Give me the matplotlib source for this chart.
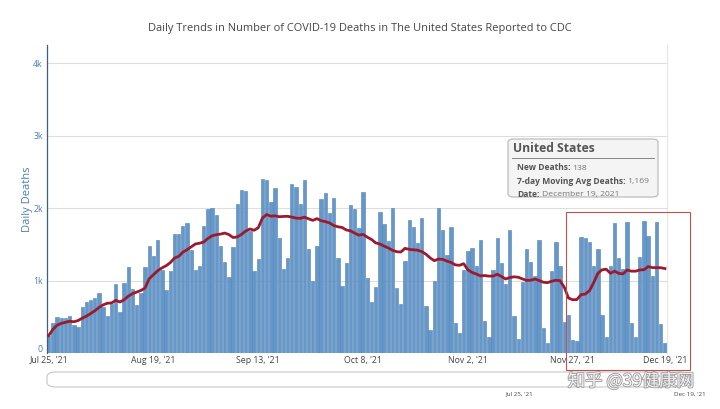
import matplotlib
matplotlib.use("Agg")
import matplotlib.pyplot as plt
from matplotlib.patches import FancyBboxPatch, Rectangle
import matplotlib.patheffects as pe
import matplotlib.transforms as mtransforms
import numpy as np
import pandas as pd

start_date = "2021-07-25"
daily_deaths = [
    240, 410, 500, 485, 485, 510, 387, 355, 640, 700, 730, 755, 830, 640, 510,
    670, 950, 570, 970, 1180, 880, 660, 830, 1190, 1480, 1345, 1560, 1150, 870,
    1125, 1640, 1640, 1750, 1800, 1425, 1150, 1200, 1755, 1990, 2000, 1910, 1480,
    1250, 1055, 1465, 2055, 2245, 2230, 1680, 1125, 1300, 2405, 2390, 2080, 2275,
    1585, 1155, 1310, 2335, 2290, 2055, 2390, 1435, 995, 1480, 2130, 2205, 1930,
    2140, 1310, 930, 1240, 2045, 1985, 1725, 2225, 1040, 710, 908, 1940, 1780,
    1550, 1995, 903, 677, 1263, 1840, 1737, 1516, 1860, 650, 318, 995, 2000, 1700,
    1350, 1737, 410, 281, 1147, 1410, 1447, 1194, 1562, 442, 226, 1147, 1585,
    1240, 949, 1700, 511, 189, 986, 1438, 1253, 1065, 1562, 345, 144, 1127, 1530,
    1205, 434, 526, 180, 162, 1597, 1590, 1528, 1200, 1440, 520, 218, 1200, 1800,
    1310, 1157, 1810, 410, 215, 1320, 1820, 1615, 1058, 1806, 402, 138,
]
dates = pd.date_range(start_date, periods=len(daily_deaths), freq="D")
moving_avg = pd.Series(daily_deaths).rolling(7, min_periods=1).mean().values

tick_dates = ["2021-07-25", "2021-08-19", "2021-09-13", "2021-10-08",
              "2021-11-02", "2021-11-27", "2021-12-19"]
tick_labels = ["Jul 25, '21", "Aug 19, '21", "Sep 13, '21", "Oct 8, '21",
               "Nov 2, '21", "Nov 27, '21", "Dec 19, '21"]
y_ticks = [0, 1000, 2000, 3000, 4000]
y_tick_labels = ["0", "1k", "2k", "3k", "4k"]

title = "Daily Trends in Number of COVID-19 Deaths in The United States Reported to CDC"
tip_title = "United States"
tip_rows = [("New Deaths:", "138"),
            ("7-day Moving Avg Deaths:", "1,169"),
            ("Date:", "December 19, 2021")]

plt.rcParams['font.family'] = ['Open Sans', 'DejaVu Sans']

fig = plt.figure(figsize=(7.2, 4.09), dpi=100)
W, H = 720, 409
ax = fig.add_axes([47 / W, 1 - 353 / H, (667 - 47) / W, (353 - 45) / H])

x = np.arange(len(daily_deaths))
ax.bar(x, daily_deaths, width=0.8, color="#6598c9", edgecolor="#4f83b8",
       linewidth=0.4, zorder=2)
ax.plot(x, moving_avg, color="#9c1a2c", lw=2.0, zorder=3)

ax.set_xlim(-0.4, len(daily_deaths) - 0.5)
ax.set_ylim(0, 4250)
tick_pos = [(pd.Timestamp(d) - dates[0]).days for d in tick_dates]
ax.set_xticks(tick_pos)
ax.set_xticklabels(tick_labels, fontsize=6.3, color="#444444")
ax.set_yticks(y_ticks)
ax.set_yticklabels(y_tick_labels, fontsize=6.3, color="#4a7fb5")
ax.tick_params(axis="both", length=0, pad=3)
ax.tick_params(axis="x", pad=2)
# lift the "0" label slightly so it does not collide with the first date label
zero_lbl = ax.get_yticklabels()[0]
zero_lbl.set_transform(zero_lbl.get_transform() +
                       mtransforms.ScaledTranslation(0, 4 / 100, fig.dpi_scale_trans))
ax.grid(axis="y", color="#dedede", lw=0.8, zorder=0)
for s in ["top", "bottom"]:
    ax.spines[s].set_visible(False)
ax.spines["right"].set_color("#e6e6e6")
ax.spines["right"].set_linewidth(0.8)
ax.spines["left"].set_color("#3d5f80")
ax.spines["left"].set_linewidth(0.9)
ax.set_ylabel("Daily Deaths", fontsize=8, color="#4a7fb5", labelpad=0)

fig.text(360 / W, 1 - 29 / H, title, ha="center", va="center",
         fontsize=7.9, color="#444444")

# tooltip box
tip = FancyBboxPatch((508 / W, 1 - 197 / H), (658 - 508) / W, (197 - 139) / H,
                     boxstyle="round,pad=0,rounding_size=0.008",
                     transform=fig.transFigure, facecolor="#f4f4f4",
                     edgecolor="#bdbdbd", lw=0.9, zorder=10)
fig.patches.append(tip)
fig.text(513 / W, 1 - 149 / H, tip_title, fontsize=8.7, fontweight="bold",
         color="#555555", va="center", zorder=11)
fig.add_artist(plt.Line2D([512 / W, 654 / W], [1 - 158 / H, 1 - 158 / H],
                          transform=fig.transFigure, color="#888888", lw=0.7,
                          zorder=11))
for i, (lab, val) in enumerate(tip_rows):
    yy = 1 - (168 + 13.5 * i) / H
    t = fig.text(517 / W, yy, lab, fontsize=6.1, fontweight="bold",
                 color="#555555", va="center", zorder=11)
    fig.canvas.draw()
    bb = t.get_window_extent()
    fig.text(bb.x1 / W + 2 / W, yy, val, fontsize=6.1, color="#777777",
             va="center", zorder=11)

# range slider
slider = FancyBboxPatch((47 / W, 1 - 387 / H), (688 - 47) / W, 15 / H,
                        boxstyle="round,pad=0,rounding_size=0.012",
                        transform=fig.transFigure, facecolor="white",
                        edgecolor="#cccccc", lw=0.9)
fig.patches.append(slider)
fig.text(519 / W, 1 - 394 / H, tick_labels[0], fontsize=4.5, color="#444444",
         ha="center", va="center")
fig.text(690 / W, 1 - 394 / H, tick_labels[-1], fontsize=4.5, color="#444444",
         ha="center", va="center")

# red highlight rectangle
rect = Rectangle((566 / W, 1 - 370 / H), (690 - 566) / W, (370 - 212) / H,
                 transform=fig.transFigure, facecolor="none",
                 edgecolor="#c0504d", lw=0.8, zorder=12)
fig.patches.append(rect)

# watermark
fig.text(631 / W, 1 - 381 / H, "知乎 @39健康网", fontsize=12.5,
         color="#f4f4f4", ha="center", va="center",
         family=["Noto Sans CJK SC", "DejaVu Sans"], zorder=13,
         path_effects=[pe.withStroke(linewidth=1.2, foreground="#9a9a9a")])

fig.savefig("out.png", dpi=100)
